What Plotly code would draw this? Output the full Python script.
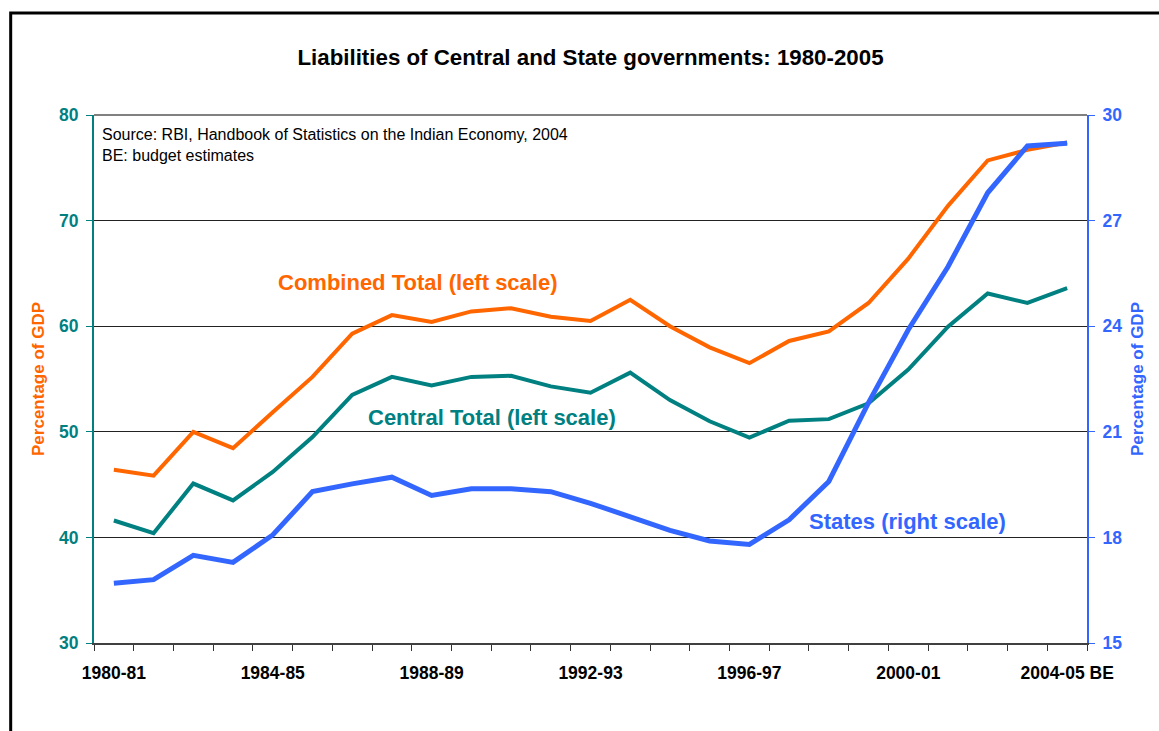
import plotly.graph_objects as go

years = ["1980-81", "1981-82", "1982-83", "1983-84", "1984-85", "1985-86", "1986-87",
         "1987-88", "1988-89", "1989-90", "1990-91", "1991-92", "1992-93", "1993-94",
         "1994-95", "1995-96", "1996-97", "1997-98", "1998-99", "1999-00", "2000-01",
         "2001-02", "2002-03", "2003-04", "2004-05 BE"]

combined_total = [46.4, 45.85, 50.0, 48.45, 51.85, 55.2, 59.3, 61.05, 60.4, 61.4, 61.7, 60.9,
                  60.5, 62.5, 60.0, 58.0, 56.5, 58.6, 59.5, 62.2, 66.4, 71.4, 75.7, 76.7, 77.4]

central_total = [41.6, 40.4, 45.1, 43.5, 46.2, 49.5, 53.5, 55.2, 54.4, 55.2, 55.3, 54.3,
                 53.7, 55.6, 53.0, 51.0, 49.45, 51.05, 51.2, 52.7, 55.9, 59.95, 63.1, 62.2, 63.6]

states = [16.7, 16.8, 17.49, 17.29, 18.07, 19.3, 19.52, 19.71, 19.19, 19.38, 19.38, 19.3,
          18.97, 18.58, 18.2, 17.9, 17.8, 18.5, 19.59, 21.83, 23.9, 25.69, 27.79, 29.12, 29.2]

tick_labels = ["1980-81", "1984-85", "1988-89", "1992-93", "1996-97", "2000-01", "2004-05 BE"]

ORANGE = "#FF6600"
TEAL = "#008080"
BLUE = "#3366FF"
FONT = "Liberation Sans, Arial, sans-serif"

fig = go.Figure()
fig.add_trace(go.Scatter(x=years, y=combined_total, mode="lines", name="Combined Total",
                         line=dict(color=ORANGE, width=4), yaxis="y"))
fig.add_trace(go.Scatter(x=years, y=central_total, mode="lines", name="Central Total",
                         line=dict(color=TEAL, width=4), yaxis="y"))
fig.add_trace(go.Scatter(x=years, y=states, mode="lines", name="States",
                         line=dict(color=BLUE, width=5), yaxis="y2"))

ticktext = [y if y in tick_labels else "" for y in years]

fig.update_layout(
    width=1159, height=731,
    margin=dict(l=94, r=72, t=115, b=88),
    paper_bgcolor="white", plot_bgcolor="white",
    showlegend=False,
    font=dict(family=FONT, color="black"),
    title=dict(text="<b>Liabilities of Central and State governments: 1980-2005</b>",
               x=0.5, xref="paper", xanchor="center",
               y=1 - 57 / 731, yref="container", yanchor="middle",
               font=dict(size=22.3, family=FONT, color="black")),
    xaxis=dict(type="category", categoryorder="array", categoryarray=years,
               tickmode="array", tickvals=years, ticktext=ticktext, tickangle=0,
               tickson="boundaries", ticks="outside", ticklen=6, tickwidth=1,
               tickcolor="#333333", showline=True, linecolor="#404040", linewidth=2,
               showgrid=False, zeroline=False,
               tickfont=dict(size=17.5, family=FONT, color="black", weight="bold"),
               ticklabelstandoff=13,
               range=[-0.5, 24.5]),
    yaxis=dict(range=[30, 80], tickmode="array", tickvals=[30, 40, 50, 60, 70, 80],
               ticks="outside", ticklen=6, tickcolor=TEAL,
               showline=True, linecolor=TEAL, linewidth=2,
               showgrid=True, gridcolor="#222222", gridwidth=1, zeroline=False,
               tickfont=dict(size=17.5, family=FONT, color=TEAL, weight="bold"),
               ticklabelstandoff=4,
               title=dict(text="Percentage of GDP", standoff=10,
                          font=dict(size=17, family=FONT, color=ORANGE, weight="bold"))),
    yaxis2=dict(range=[15, 30], tickmode="array", tickvals=[15, 18, 21, 24, 27, 30],
                overlaying="y", side="right",
                ticks="outside", ticklen=6, tickcolor=BLUE,
                showline=True, linecolor=BLUE, linewidth=2,
                showgrid=False, zeroline=False,
                tickfont=dict(size=17.5, family=FONT, color=BLUE, weight="bold"),
                ticklabelstandoff=4,
                title=dict(text="Percentage of GDP", standoff=10,
                           font=dict(size=17, family=FONT, color=BLUE, weight="bold"))),
)

# top border of plot area (80 line)
fig.add_shape(type="line", xref="paper", yref="paper", x0=0, x1=1, y0=1, y1=1,
              line=dict(color="#808080", width=2))

# outer frame of the figure
fig.add_shape(type="rect", xref="paper", yref="paper",
              x0=-0.0839, x1=1.09, y0=-0.19, y1=1.193,
              line=dict(color="black", width=3), fillcolor="rgba(0,0,0,0)", layer="above")

fig.add_annotation(text="Source: RBI, Handbook of Statistics on the Indian Economy, 2004",
                   xref="paper", yref="paper", x=0.0057, y=0.9623,
                   xanchor="left", yanchor="middle", showarrow=False,
                   font=dict(size=16, family=FONT, color="black"))
fig.add_annotation(text="BE: budget estimates",
                   xref="paper", yref="paper", x=0.0057, y=0.9226,
                   xanchor="left", yanchor="middle", showarrow=False,
                   font=dict(size=16, family=FONT, color="black"))

fig.add_annotation(text="<b>Combined Total (left scale)</b>", xref="paper", yref="paper",
                   x=0.326, y=0.682, xanchor="center", yanchor="middle", showarrow=False,
                   font=dict(size=22, family=FONT, color=ORANGE))
fig.add_annotation(text="<b>Central Total (left scale)</b>", xref="paper", yref="paper",
                   x=0.4005, y=0.428, xanchor="center", yanchor="middle", showarrow=False,
                   font=dict(size=22, family=FONT, color=TEAL))
fig.add_annotation(text="<b>States (right scale)</b>", xref="paper", yref="paper",
                   x=0.819, y=0.2297, xanchor="center", yanchor="middle", showarrow=False,
                   font=dict(size=22, family=FONT, color=BLUE))

fig.write_html("out.html")
